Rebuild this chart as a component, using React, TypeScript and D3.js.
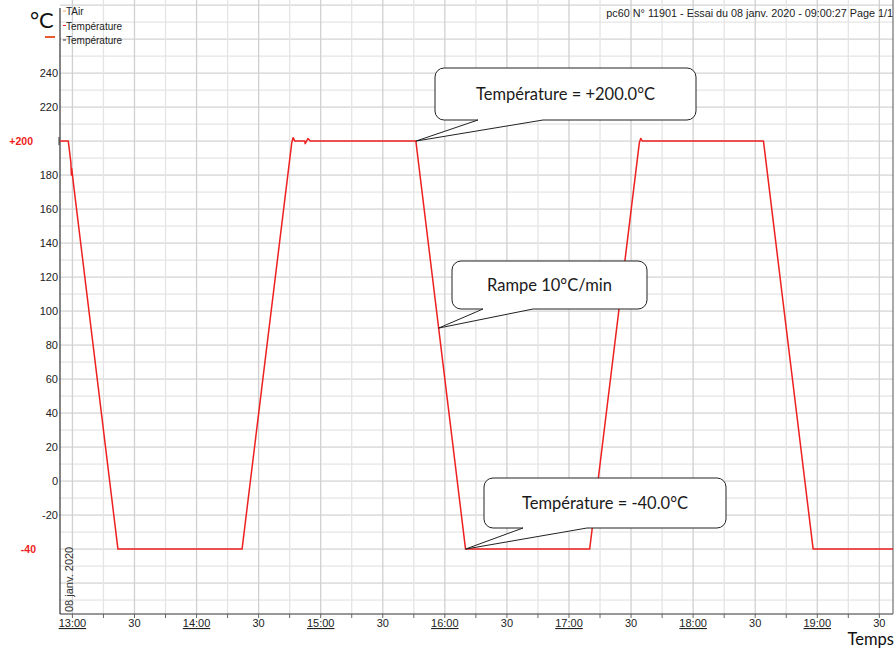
import * as d3 from "d3";
import React from "react";

const WIDTH = 896;
const HEIGHT = 648;

// recorded temperature (°C), 08 janv. 2020
const sampleTimes = [
  "12:54:00", "12:58:00", "12:59:15", "12:59:30", "12:59:40", "13:00:30", "13:22:00",
  "14:22:00", "14:46:00", "14:46:40", "14:47:30", "14:52:20", "14:52:30", "14:53:50",
  "14:55:00", "15:46:00", "16:10:00", "17:10:00", "17:34:00", "17:34:40", "17:35:30",
  "18:34:00", "18:58:00", "19:36:36",
];
const temperature = [
  200, 200, 187.5, 180, 184, 175, -40,
  -40, 199, 202, 200, 200, 198.5, 201.5,
  200, 200, -40, -40, 199, 201.5, 200,
  200, -40, -40,
];

const yTicks = [240, 220, 180, 160, 140, 120, 100, 80, 60, 40, 20, 0, -20];
const setpoints = [200, -40];
const setpointLabels = ["+200", "-40"];
const legendLabels = ["TAir", "Température", "Température"];
const legendColors = ["#f0a060", "#ee2020", "#333333"];

const noteTimes = ["15:46:00", "15:57:00", "16:10:00"];
const noteValues = [200, 90, -40];
const noteTexts = ["Température = +200.0°C", "Rampe 10°C/min", "Température = -40.0°C"];
// box layout for each callout: left, top, right, bottom, tail base start/end
const noteBoxes = [
  [435, 68, 696, 120, 478, 543],
  [452, 261, 647, 309, 483, 533],
  [484, 478, 726, 528, 523, 587],
];

const day = (s: string) => d3.timeParse("%Y-%m-%d %H:%M:%S")("2020-01-08 " + s) as Date;

const x = d3.scaleTime()
  .domain([day("12:54:00"), day("19:36:36")])
  .range([60, 893]);
const y = d3.scaleLinear().domain([-78.2, 283]).range([614, 0]);

const labelFont = "'Liberation Sans', Arial, sans-serif";
const noteFont = "Lato, 'Open Sans', sans-serif";

function calloutPath(b: number[], ax: number, ay: number) {
  const [x0, y0, x1, y1, t1, t2] = b;
  const r = 9;
  const p = d3.path();
  p.moveTo(x0 + r, y0);
  p.lineTo(x1 - r, y0);
  p.arcTo(x1, y0, x1, y0 + r, r);
  p.lineTo(x1, y1 - r);
  p.arcTo(x1, y1, x1 - r, y1, r);
  p.lineTo(t2, y1);
  p.lineTo(ax, ay);
  p.lineTo(t1, y1);
  p.lineTo(x0 + r, y1);
  p.arcTo(x0, y1, x0, y1 - r, r);
  p.lineTo(x0, y0 + r);
  p.arcTo(x0, y0, x0 + r, y0, r);
  p.closePath();
  return p.toString();
}

export default function App() {
  const quarter = d3.timeMinute.every(15)!.range(day("13:00:00"), day("19:36:00"));
  const vMajor = quarter.filter(d => d.getMinutes() % 30 === 0);
  const hLines = d3.range(-70, 290, 10);

  const points = sampleTimes.map((t, i) => [x(day(t)), y(temperature[i])] as [number, number]);
  const line = d3.line();

  return (
    <svg width={WIDTH} height={HEIGHT} style={{ position: "fixed", left: 0, top: 0, background: "#fff" }}>
      {/* grid */}
      {hLines.map(v => (
        <line key={"h" + v} x1={60} x2={893} y1={y(v)} y2={y(v)}
          stroke={v % 20 === 0 ? "#c8c8c8" : "#dedede"} strokeWidth={1} />
      ))}
      {quarter.map(d => (
        <line key={"v" + +d} x1={x(d)} x2={x(d)} y1={0} y2={614}
          stroke={d.getMinutes() % 30 === 0 ? "#d0d0d0" : "#e4e4e4"} strokeWidth={1.3} />
      ))}

      {/* frame */}
      <line x1={60} x2={60} y1={8} y2={614} stroke="#333" strokeWidth={1.2} />
      <line x1={60} x2={893} y1={614} y2={614} stroke="#333" strokeWidth={1.2} />
      <line x1={893} x2={893} y1={0} y2={614} stroke="#555" strokeWidth={1} />

      {/* x ticks and labels */}
      {quarter.map(d => (
        <line key={"t" + +d} x1={x(d)} x2={x(d)} y1={614} y2={618} stroke="#666" />
      ))}
      {vMajor.map(d => (
        <text key={"l" + +d} x={x(d)} y={627} textAnchor="middle" fontFamily={labelFont} fontSize={11}
          fill="#222" textDecoration={d.getMinutes() === 0 ? "underline" : undefined}>
          {d.getMinutes() === 0 ? d3.timeFormat("%H:%M")(d) : "30"}
        </text>
      ))}
      <text x={894} y={645} textAnchor="end" fontFamily={noteFont} fontSize={16.5} fill="#111">Temps</text>
      <text transform={`translate(${x(day("13:00:00")) + 0.5},612) rotate(-90)`} fontFamily={labelFont}
        fontSize={11} fill="#333">08 janv. 2020</text>

      {/* y labels */}
      {yTicks.map(v => (
        <text key={"y" + v} x={58} y={y(v) + 4} textAnchor="end" fontFamily={labelFont} fontSize={11} fill="#222">
          {v}
        </text>
      ))}
      {setpoints.map((v, i) => (
        <text key={"s" + v} x={33 + (i === 1 ? 3 : 0)} y={y(v) + 4} textAnchor="end" fontFamily={labelFont}
          fontSize={10.5} fontWeight="bold" fill="#ee1c1c">{setpointLabels[i]}</text>
      ))}
      <line x1={59} x2={59} y1={y(200) - 4} y2={y(200) + 4} stroke="#333" />

      {/* unit and legend */}
      <text x={30} y={28} fontFamily={noteFont} fontSize={22} fill="#111">°C</text>
      <rect x={45} y={36} width={10} height={2} fill="#e85a30" />
      {legendLabels.map((s, i) => (
        <g key={"lg" + i}>
          <line x1={63} x2={66} y1={11 + i * 14.5} y2={11 + i * 14.5} stroke={legendColors[i]} strokeWidth={1} />
          <text x={66} y={15 + i * 14.5} fontFamily={labelFont} fontSize={10} fill="#222">{s}</text>
        </g>
      ))}
      <text x={893} y={17} textAnchor="end" fontFamily={labelFont} fontSize={10.8} fill="#222">
        pc60 N° 11901 - Essai du 08 janv. 2020 - 09:00:27  Page 1/1
      </text>

      {/* temperature curve */}
      <path d={line(points) ?? ""} fill="none" stroke="#ee2020" strokeWidth={1.5} strokeLinejoin="round" />

      {/* callouts */}
      {noteTexts.map((s, i) => {
        const b = noteBoxes[i];
        const ax = x(day(noteTimes[i]));
        const ay = y(noteValues[i]);
        return (
          <g key={"n" + i}>
            <path d={calloutPath(b, ax, ay)} fill="#fff" stroke="#222" strokeWidth={1} />
            <text x={(b[0] + b[2]) / 2} y={(b[1] + b[3]) / 2 + 6} textAnchor="middle" fontFamily={noteFont}
              fontSize={16.5} fill="#1a1a1a">{s}</text>
          </g>
        );
      })}
    </svg>
  );
}
